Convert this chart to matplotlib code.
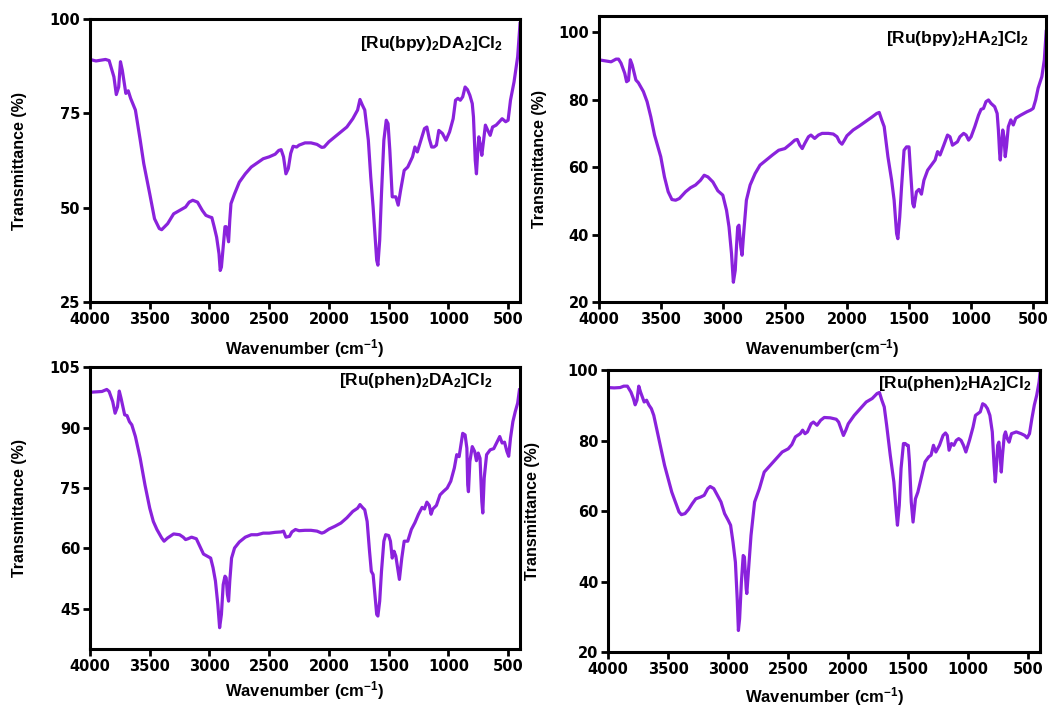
import matplotlib
matplotlib.use('Agg')
import matplotlib.pyplot as plt
import numpy as np

plt.rcParams['font.family'] = ['Liberation Sans', 'DejaVu Sans']
plt.rcParams['font.weight'] = 'bold'
plt.rcParams['mathtext.fontset'] = 'custom'
plt.rcParams['mathtext.default'] = 'bf'
plt.rcParams['mathtext.bf'] = 'Liberation Sans:bold'
plt.rcParams['mathtext.rm'] = 'Liberation Sans:bold'

# [Ru(bpy)2DA2]Cl2
wn_bpy_da = [4000, 3950, 3870, 3840, 3800, 3780, 3760, 3745, 3730, 3700, 3680, 3660, 3620, 3580,
             3550, 3500, 3460, 3420, 3400, 3350, 3300, 3250, 3200, 3170, 3140, 3100, 3060, 3030,
             3000, 2980, 2960, 2940, 2920, 2910, 2900, 2885, 2870, 2860, 2850, 2840, 2830, 2820,
             2790, 2750, 2700, 2650, 2600, 2550, 2500, 2450, 2420, 2400, 2380, 2360, 2340, 2320,
             2300, 2270, 2250, 2200, 2150, 2100, 2060, 2040, 2000, 1950, 1900, 1850, 1800, 1760,
             1740, 1720, 1700, 1670, 1650, 1630, 1600, 1590, 1575, 1560, 1540, 1520, 1505, 1490,
             1470, 1440, 1420, 1400, 1370, 1340, 1300, 1280, 1260, 1230, 1200, 1180, 1160, 1140,
             1120, 1100, 1080, 1050, 1020, 990, 960, 940, 920, 900, 880, 860, 840, 820, 800, 790,
             775, 765, 755, 745, 730, 720, 705, 690, 670, 650, 630, 600, 550, 520, 500, 480, 450,
             420, 400]
t_bpy_da = [89.3, 88.9, 89.3, 89.0, 84.7, 80.0, 82.0, 88.7, 86.5, 80.3, 81.0, 79.0, 75.9, 68.0,
            61.7, 53.7, 47.1, 44.5, 44.2, 45.8, 48.4, 49.3, 50.2, 51.5, 52.0, 51.5, 49.3, 48.0,
            47.6, 47.4, 44.9, 42.2, 37.8, 33.4, 34.3, 39.6, 45.0, 45.0, 43.0, 41.0, 46.7, 51.1,
            53.7, 56.8, 59.0, 60.8, 61.9, 63.0, 63.5, 64.2, 65.2, 65.4, 63.5, 59.0, 60.4, 64.4,
            66.3, 66.1, 66.6, 67.2, 67.2, 66.8, 66.0, 66.1, 67.5, 68.8, 70.1, 71.4, 73.6, 75.9,
            78.7, 77.2, 75.9, 67.9, 58.2, 50.2, 36.1, 34.8, 41.4, 53.7, 67.9, 73.2, 72.3, 65.2,
            52.9, 52.9, 50.7, 54.6, 59.9, 60.8, 63.5, 66.1, 64.8, 67.9, 71.0, 71.4, 68.3, 66.1,
            66.1, 66.6, 70.5, 69.7, 67.9, 70.1, 73.6, 78.5, 79.0, 78.5, 79.4, 82.0, 81.3, 79.8,
            77.6, 74.1, 62.6, 59.0, 64.4, 68.8, 66.1, 63.9, 67.9, 71.9, 70.5, 69.2, 71.4, 71.9,
            73.6, 72.8, 73.2, 78.5, 83.4, 90.0, 98.8]

# [Ru(bpy)2HA2]Cl2
wn_bpy_ha = [4000, 3950, 3900, 3860, 3840, 3820, 3790, 3775, 3760, 3745, 3730, 3700, 3680, 3660,
             3640, 3610, 3580, 3550, 3500, 3470, 3440, 3410, 3380, 3350, 3300, 3260, 3220, 3180,
             3150, 3120, 3080, 3040, 3000, 2970, 2950, 2930, 2915, 2900, 2890, 2880, 2870, 2855,
             2845, 2830, 2810, 2780, 2740, 2700, 2650, 2600, 2550, 2500, 2450, 2420, 2400, 2380,
             2360, 2340, 2310, 2290, 2260, 2230, 2200, 2150, 2110, 2080, 2060, 2040, 2020, 2000,
             1950, 1900, 1850, 1800, 1760, 1740, 1720, 1700, 1670, 1640, 1620, 1600, 1590, 1575,
             1560, 1540, 1520, 1500, 1490, 1470, 1460, 1440, 1420, 1400, 1380, 1350, 1320, 1290,
             1270, 1250, 1220, 1190, 1170, 1150, 1130, 1110, 1090, 1060, 1040, 1020, 1000, 970,
             940, 920, 900, 880, 860, 840, 810, 790, 780, 770, 765, 755, 745, 735, 725, 715, 700,
             680, 660, 640, 600, 550, 520, 500, 480, 460, 430, 410, 395]
t_bpy_ha = [91.8, 91.5, 91.2, 92.0, 92.0, 90.8, 87.8, 85.3, 85.7, 91.8, 90.3, 85.8, 85.0, 83.7,
            82.4, 79.4, 74.9, 69.5, 63.1, 57.1, 52.7, 50.4, 50.2, 50.7, 52.7, 53.9, 54.7, 56.1,
            57.6, 57.1, 55.6, 53.0, 51.7, 47.2, 42.3, 34.4, 25.9, 29.4, 36.3, 42.3, 42.8, 36.3,
            33.9, 41.3, 50.2, 54.7, 58.1, 60.6, 62.1, 63.6, 65.0, 65.5, 67.0, 68.0, 68.2, 66.5,
            65.5, 67.0, 69.0, 69.5, 68.5, 69.5, 70.0, 70.0, 69.8, 69.0, 67.5, 66.8, 68.0, 69.3,
            71.0, 72.2, 73.5, 74.8, 75.9, 76.2, 74.0, 72.0, 63.1, 56.1, 50.2, 40.3, 38.8, 45.2,
            54.2, 65.0, 66.0, 66.0, 60.1, 49.2, 48.2, 52.7, 53.4, 52.0, 56.1, 59.1, 60.6, 62.1,
            64.6, 63.6, 66.5, 69.5, 69.0, 66.5, 67.0, 67.5, 69.0, 70.0, 69.5, 68.0, 69.0, 72.0,
            75.4, 77.1, 77.4, 79.4, 79.9, 78.9, 77.9, 75.9, 71.0, 64.1, 62.1, 67.0, 71.0, 69.0,
            63.1, 66.0, 72.0, 74.0, 72.5, 74.5, 75.4, 76.4, 76.9, 77.4, 79.9, 83.4, 86.8, 91.8,
            100.2]

# [Ru(phen)2DA2]Cl2
wn_phen_da = [4000, 3900, 3860, 3840, 3810, 3790, 3770, 3755, 3740, 3710, 3690, 3670, 3650, 3620,
              3580, 3540, 3500, 3470, 3440, 3400, 3380, 3350, 3300, 3250, 3220, 3200, 3180, 3150,
              3110, 3080, 3050, 3020, 2990, 2970, 2950, 2930, 2915, 2900, 2885, 2870, 2860, 2850,
              2840, 2830, 2815, 2790, 2750, 2700, 2650, 2600, 2550, 2500, 2450, 2400, 2380, 2360,
              2330, 2310, 2280, 2250, 2200, 2150, 2100, 2060, 2040, 2000, 1950, 1900, 1850, 1800,
              1760, 1740, 1720, 1700, 1680, 1660, 1645, 1630, 1615, 1600, 1590, 1575, 1560, 1540,
              1525, 1500, 1485, 1470, 1455, 1440, 1425, 1410, 1390, 1370, 1340, 1310, 1280, 1250,
              1220, 1200, 1180, 1160, 1145, 1130, 1100, 1070, 1040, 1010, 980, 950, 930, 910, 895,
              880, 860, 845, 838, 832, 820, 800, 780, 765, 750, 735, 720, 712, 700, 680, 650, 620,
              590, 570, 550, 530, 510, 495, 480, 460, 440, 420, 405]
t_phen_da = [98.8, 99.0, 99.5, 99.0, 96.5, 93.6, 95.2, 99.1, 97.3, 93.2, 93.0, 91.5, 90.7, 87.8,
             82.4, 75.8, 70.0, 66.7, 64.7, 62.6, 61.8, 62.6, 63.6, 63.4, 62.8, 62.2, 62.4, 62.8,
             62.4, 60.5, 58.6, 58.1, 57.6, 55.2, 51.9, 46.1, 40.3, 43.6, 51.0, 53.1, 52.7, 48.6,
             46.9, 51.9, 57.6, 60.1, 61.6, 62.8, 63.4, 63.4, 63.8, 63.8, 64.0, 64.1, 64.3, 62.8,
             63.0, 64.1, 64.7, 64.4, 64.5, 64.5, 64.3, 63.8, 64.0, 64.8, 65.5, 66.3, 67.6, 69.2,
             70.0, 70.9, 70.2, 69.6, 66.7, 59.3, 54.3, 53.5, 48.6, 43.6, 43.2, 46.9, 54.3, 61.8,
             63.4, 63.2, 61.8, 57.6, 59.3, 58.1, 55.2, 52.3, 57.6, 61.8, 61.8, 64.7, 66.4, 68.5,
             70.2, 69.8, 71.5, 70.7, 68.5, 69.8, 70.7, 73.3, 74.2, 75.0, 76.7, 80.0, 83.3, 82.8,
             85.7, 88.6, 88.2, 84.9, 75.8, 74.1, 81.6, 85.3, 84.1, 81.8, 83.7, 82.4, 71.7, 68.8,
             77.5, 83.3, 84.5, 84.8, 86.6, 87.8, 86.2, 86.4, 84.1, 82.9, 87.4, 91.5, 94.0, 96.1,
             99.4]

# [Ru(phen)2HA2]Cl2
wn_phen_ha = [4000, 3950, 3900, 3870, 3840, 3810, 3790, 3775, 3760, 3745, 3730, 3700, 3680, 3660,
              3640, 3620, 3590, 3560, 3530, 3500, 3470, 3440, 3410, 3390, 3360, 3330, 3300, 3270,
              3230, 3200, 3170, 3150, 3120, 3090, 3060, 3030, 3000, 2980, 2960, 2940, 2925, 2915,
              2905, 2890, 2875, 2865, 2850, 2845, 2830, 2810, 2780, 2740, 2700, 2650, 2600, 2550,
              2500, 2470, 2440, 2400, 2380, 2360, 2340, 2310, 2290, 2260, 2230, 2200, 2150, 2100,
              2080, 2060, 2040, 2020, 2000, 1950, 1900, 1850, 1800, 1760, 1740, 1720, 1700, 1680,
              1650, 1620, 1600, 1590, 1575, 1560, 1540, 1525, 1510, 1500, 1490, 1475, 1460, 1440,
              1420, 1400, 1380, 1360, 1330, 1310, 1290, 1270, 1240, 1210, 1190, 1175, 1160, 1140,
              1120, 1100, 1080, 1060, 1040, 1020, 990, 960, 940, 920, 900, 880, 860, 840, 820, 800,
              785, 775, 765, 755, 745, 735, 725, 715, 700, 690, 675, 660, 640, 600, 560, 530, 510,
              490, 470, 450, 430, 410, 400]
t_phen_ha = [95.1, 95.0, 95.1, 95.5, 95.5, 93.8, 92.0, 90.2, 91.5, 95.5, 93.8, 91.0, 91.5, 90.1,
             89.1, 87.2, 82.5, 77.7, 73.0, 69.2, 65.4, 62.6, 59.8, 59.0, 59.3, 60.5, 62.1, 63.5,
             64.0, 64.5, 66.4, 67.0, 66.4, 64.5, 62.6, 59.3, 57.4, 56.0, 51.2, 45.5, 35.1, 26.1,
             29.4, 39.9, 47.4, 47.0, 38.0, 36.6, 43.7, 53.1, 62.6, 66.4, 71.1, 73.0, 74.9, 76.8,
             77.7, 78.9, 81.1, 82.0, 83.0, 82.0, 82.5, 84.8, 85.3, 84.4, 85.8, 86.6, 86.5, 86.1,
             85.3, 83.4, 81.5, 83.0, 84.8, 87.2, 89.1, 91.0, 92.0, 93.4, 93.7, 91.5, 89.6, 84.4,
             75.9, 68.3, 59.8, 56.0, 61.6, 72.1, 79.2, 79.2, 78.7, 78.7, 74.0, 62.6, 56.9, 63.5,
             65.4, 68.3, 71.1, 74.0, 75.4, 75.9, 78.7, 76.8, 78.7, 81.5, 82.2, 81.5, 77.3, 79.2,
             78.7, 80.1, 80.6, 80.1, 78.7, 76.8, 80.1, 83.9, 87.2, 87.7, 88.2, 90.5, 90.1, 89.1,
             87.2, 82.5, 73.0, 68.3, 73.0, 78.7, 79.6, 75.9, 71.1, 75.9, 81.5, 82.5, 80.6, 79.6,
             82.0, 82.5, 82.0, 81.5, 80.8, 82.0, 86.3, 90.1, 92.9, 96.7, 100.0]

line_color = '#8A22DC'

fig = plt.figure(figsize=(10.54, 7.06), dpi=100)

panels = [
    ([0.0854, 0.572, 0.408, 0.401], wn_bpy_da, t_bpy_da, (25, 100), [25, 50, 75, 100],
     r'[Ru(bpy)$_2$DA$_2$]Cl$_2$', (0.96, 0.915), r'Wavenumber (cm$^{-1}$)', 7, 16),
    ([0.568, 0.572, 0.424, 0.405], wn_bpy_ha, t_bpy_ha, (20, 104.7), [20, 40, 60, 80, 100],
     r'[Ru(bpy)$_2$HA$_2$]Cl$_2$', (0.962, 0.923), r'Wavenumber(cm$^{-1}$)', 7, 8),
    ([0.0854, 0.0807, 0.408, 0.399], wn_phen_da, t_phen_da, (35, 105), [45, 60, 75, 90, 105],
     r'[Ru(phen)$_2$DA$_2$]Cl$_2$', (0.935, 0.955), r'Wavenumber (cm$^{-1}$)', 4, 16),
    ([0.577, 0.0765, 0.41, 0.399], wn_phen_ha, t_phen_ha, (20, 100), [20, 40, 60, 80, 100],
     r'[Ru(phen)$_2$HA$_2$]Cl$_2$', (0.98, 0.954), r'Wavenumber (cm$^{-1}$)', 6, 20),
]

for rect, wn, t, ylim, yticks, name, pos, xlab, xpad, ypad in panels:
    ax = fig.add_axes(rect)
    ax.plot(wn, t, color=line_color, lw=2.3)
    ax.set_xlim(4000, 400)
    ax.set_ylim(*ylim)
    ax.set_xticks([4000, 3500, 3000, 2500, 2000, 1500, 1000, 500])
    ax.set_yticks(yticks)
    for s in ax.spines.values():
        s.set_linewidth(2.2)
    ax.tick_params(direction='out', length=5, width=2, labelsize=10.5, pad=2,
                   labelfontfamily='DejaVu Sans')
    for lbl in ax.get_xticklabels() + ax.get_yticklabels():
        lbl.set_fontweight('bold')
    ax.set_xlabel(xlab, fontsize=12, fontweight='bold', labelpad=xpad)
    ax.set_ylabel('Transmittance (%)', fontsize=11.5, fontweight='bold', labelpad=ypad)
    ax.text(pos[0], pos[1], name, transform=ax.transAxes, ha='right', va='center',
            fontsize=12.5, fontweight='bold')

fig.savefig('out.png', dpi=100)
